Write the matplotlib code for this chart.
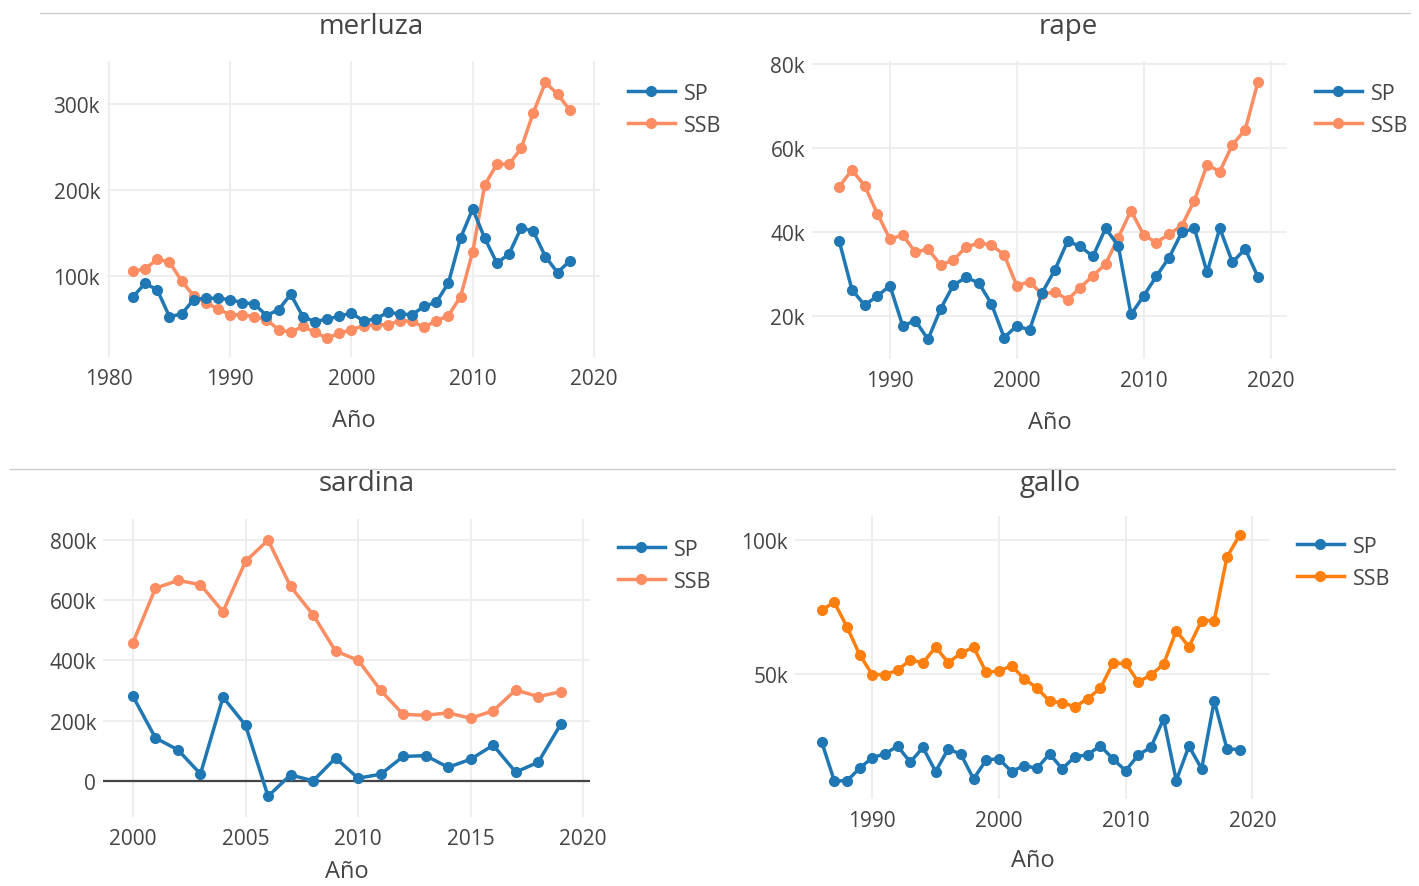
import matplotlib
matplotlib.use("Agg")
import matplotlib.pyplot as plt
from matplotlib.ticker import FuncFormatter
from matplotlib.lines import Line2D

plt.rcParams['font.family'] = ['Open Sans', 'DejaVu Sans']

# merluza
merluza_years = list(range(1982, 2019))
merluza_sp = [76, 91.5, 83.7, 52.7, 55.8, 72.5, 74.4, 74, 72.5, 69, 67.4, 54, 60.8, 78.7,
              52.7, 46.9, 50, 53, 57, 47.7, 50, 57.8, 55.8, 55, 64.7, 69.4, 91.9, 144,
              178, 143.8, 115, 125.6, 156, 152, 122.5, 104, 117.4]
merluza_ssb = [105.4, 108.5, 119.4, 116.3, 94.2, 77, 69, 61.6, 55, 55, 52.7, 49.2, 37.6, 34.5,
               41.5, 34.5, 27.9, 33.3, 37.6, 42.2, 43.4, 43.4, 48, 47.3, 40.3, 48, 53.9, 76,
               128, 206, 230, 230, 248.4, 290, 325, 311.6, 293]

# rape
rape_years = list(range(1986, 2020))
rape_sp = [37.8, 26.3, 22.6, 24.8, 27.2, 17.7, 18.9, 14.5, 21.8, 27.4, 29.2, 27.9, 22.9, 14.9,
           17.7, 16.7, 25.6, 31, 37.8, 36.6, 34.2, 40.9, 36.7, 20.4, 24.8, 29.5, 33.9, 39.9,
           40.9, 30.4, 40.9, 32.8, 36, 29.4]
rape_ssb = [50.8, 54.8, 51, 44.4, 38.3, 39.3, 35.2, 36, 32.1, 33.4, 36.4, 37.4, 36.9, 34.6,
            27.2, 28.2, 25.2, 25.8, 23.9, 26.8, 29.6, 32.4, 38.7, 45.1, 39.3, 37.5, 39.5, 41.5,
            47.5, 56, 54.4, 60.8, 64.3, 75.6]

# sardina
sardina_years = list(range(2000, 2020))
sardina_sp = [281, 142.6, 102.9, 23, 278, 185, -51, 20, 0, 76, 9, 22, 81, 84, 45, 72, 118.5,
              29, 62, 188]
sardina_ssb = [459, 640, 666, 652, 562, 729, 800, 646, 552, 431, 401, 301, 221, 218, 226, 208,
               233, 302, 280, 296]

# gallo
gallo_years = list(range(1986, 2020))
gallo_sp = [24.5, 9.8, 9.8, 14.5, 18.5, 19.9, 22.8, 16.8, 22.3, 13.3, 21.8, 19.7, 10.5, 17.7,
            18, 13.3, 15.5, 14.5, 19.9, 14.3, 18.9, 19.5, 23, 18, 13.6, 19.5, 22.4, 33, 9.9,
            22.8, 14.3, 39.8, 21.8, 21.5]
gallo_ssb = [73.8, 76.7, 67.5, 57.1, 49.6, 49.6, 51.2, 55.1, 54, 59.9, 54.1, 57.6, 59.9, 50.4,
             51, 52.9, 48, 44.6, 39.6, 39.1, 37.5, 40.6, 44.4, 53.8, 53.8, 46.9, 49.4, 53.5,
             66, 60, 69.8, 69.8, 93.6, 101.8]

W, H = 1419, 887
BLUE = '#1f77b4'
SALMON = '#fc8d62'
ORANGE = '#ff7f0e'
TXT = '#444444'
GRID = '#eeeeee'

fig = plt.figure(figsize=(W / 100, H / 100), dpi=100)


def rect(l, t, r, b):
    return [l / W, 1 - b / H, (r - l) / W, (b - t) / H]


def kfmt(v, pos):
    if v == 0:
        return '0'
    return '%dk' % round(v)


def panel(box, years, sp, ssb, ssb_color, title, xlim, ylim, xticks, yticks,
          leg_xy, title_xy, xlab_y):
    ax = fig.add_axes(rect(*box))
    ax.plot(years, sp, color=BLUE, lw=2.5, marker='o', ms=7, label='SP', zorder=3)
    ax.plot(years, ssb, color=ssb_color, lw=2.5, marker='o', ms=7, label='SSB', zorder=2)
    ax.set_xlim(*xlim)
    ax.set_ylim(*ylim)
    ax.set_xticks(xticks)
    ax.set_yticks(yticks)
    ax.yaxis.set_major_formatter(FuncFormatter(kfmt))
    ax.grid(True, color=GRID, lw=1.5)
    ax.set_axisbelow(True)
    for s in ax.spines.values():
        s.set_visible(False)
    ax.tick_params(length=0, labelsize=15, colors=TXT)
    ax.tick_params(axis='x', pad=8)
    ax.tick_params(axis='y', pad=5)
    l, t, r, b = box
    fig.text(title_xy[0] / W, 1 - title_xy[1] / H, title, ha='center', va='center',
             fontsize=20, color=TXT)
    fig.text((l + r) / 2 / W, 1 - xlab_y / H, 'Año', ha='center', va='center',
             fontsize=17, color=TXT)
    leg = ax.legend(loc='upper left', bbox_to_anchor=(leg_xy[0] / W, 1 - leg_xy[1] / H),
                    bbox_transform=fig.transFigure, frameon=False, fontsize=15.5,
                    handlelength=2.2, labelspacing=0.5, handletextpad=0.4, borderpad=0)
    for txt in leg.get_texts():
        txt.set_color(TXT)
    return ax


panel((107, 62, 600, 358), merluza_years, merluza_sp, merluza_ssb, SALMON, 'merluza',
      (1979.85, 2020.5), (5.8, 350), [1980, 1990, 2000, 2010, 2020], [100, 200, 300],
      (617, 73), (371, 27), 421)
panel((812, 62, 1287, 360), rape_years, rape_sp, rape_ssb, SALMON, 'rape',
      (1983.85, 2021.3), (9.8, 80.7), [1990, 2000, 2010, 2020], [20, 40, 60, 80],
      (1304, 73), (1068, 27), 423)
ax3 = panel((103, 520, 590, 818), sardina_years, sardina_sp, sardina_ssb, SALMON, 'sardina',
            (1998.67, 2020.3), (-120, 870), [2000, 2005, 2010, 2015, 2020],
            [0, 200, 400, 600, 800], (607, 529), (367, 484), 872)
ax3.axhline(0, color=TXT, lw=1.6, zorder=1)
panel((795, 517, 1270, 800), gallo_years, gallo_sp, gallo_ssb, ORANGE, 'gallo',
      (1983.9, 2021.4), (3, 109), [1990, 2000, 2010, 2020], [50, 100],
      (1286, 526), (1050, 484), 861)

# card separators
fig.add_artist(Line2D([40 / W, 1410 / W], [1 - 14 / H, 1 - 14 / H], color='#cccccc', lw=1))
fig.add_artist(Line2D([10 / W, 1395 / W], [1 - 470 / H, 1 - 470 / H], color='#cccccc', lw=1))

fig.savefig('out.png', dpi=100)
